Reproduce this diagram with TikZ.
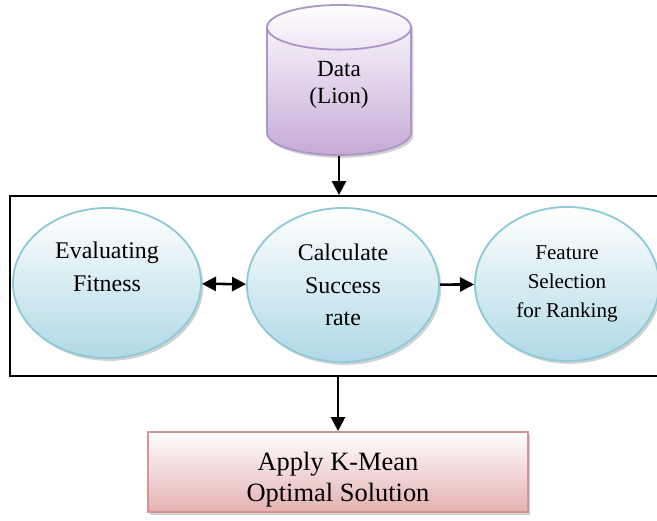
\documentclass[tikz,border=0pt]{standalone}
\usepackage{fontspec}
\setmainfont{Liberation Serif}
\usepackage{tikz}
\usetikzlibrary{positioning,shapes.geometric,arrows.meta,shadows,calc}
\definecolor{ellfill}{RGB}{176,217,229}
\definecolor{elldraw}{RGB}{140,202,216}
\definecolor{dbfill}{RGB}{198,170,214}
\definecolor{dbdraw}{RGB}{172,150,200}
\definecolor{boxfill}{RGB}{228,176,176}
\definecolor{boxdraw}{RGB}{214,148,150}

\begin{document}
\begin{tikzpicture}[
  x=0.025cm, y=-0.025cm,
  every node/.style={font=\fontsize{17}{23}\selectfont, align=center},
  soft/.style={drop shadow={opacity=0.45, fill=gray!80, shadow xshift=1.6pt, shadow yshift=-2pt}},
  proc/.style={ellipse, draw=elldraw, line width=1.3pt, top color=white, bottom color=ellfill, soft},
  db/.style={cylinder, shape border rotate=90, aspect=0.65, draw=dbdraw, line width=1.3pt,
             top color=white, bottom color=dbfill, soft},
  res/.style={rectangle, draw=boxdraw, line width=1.3pt, top color=white, bottom color=boxfill, soft},
  flow/.style={line width=1.8pt, -{Triangle[length=10pt,width=10pt]}}
]
  \clip (0,0) rectangle (657,520);
  \node[db, anchor=shape center, minimum width=3.6cm, minimum height=3.75cm,
        font=\fontsize{16.5}{19}\selectfont] (data) at (339,80) {Data\\(Lion)\\\mbox{}};

  \node[draw, line width=1.3pt, minimum width=16.4cm, minimum height=4.5cm] (stage) at (338,286) {};
  \node[proc, minimum width=4.7cm, minimum height=3.75cm] (fitness) at (107,283) {Evaluating\\Fitness\\\mbox{}};
  \node[proc, minimum width=4.8cm, minimum height=3.85cm] (rate) at (343,285) {Calculate\\Success\\rate};
  \node[proc, minimum width=4.6cm, minimum height=3.85cm, font=\fontsize{15}{20.5}\selectfont] (rank) at (567,284) {Feature\\Selection\\for Ranking};

  \node[res, minimum width=9.5cm, minimum height=2cm, font=\fontsize{18.8}{22}\selectfont] (kmean) at (338,472)
    {\rule{0pt}{24pt}Apply K-Mean\\Optimal Solution};

  \draw[flow] (data) -- (data |- stage.north);
  \draw[flow, {Triangle[length=10pt,width=10pt]}-{Triangle[length=10pt,width=10pt]}] (fitness) -- (rate);
  \draw[flow] (rate) -- (rank);
  \draw[flow] (stage.south -| kmean) -- (kmean);
\end{tikzpicture}
\end{document}
